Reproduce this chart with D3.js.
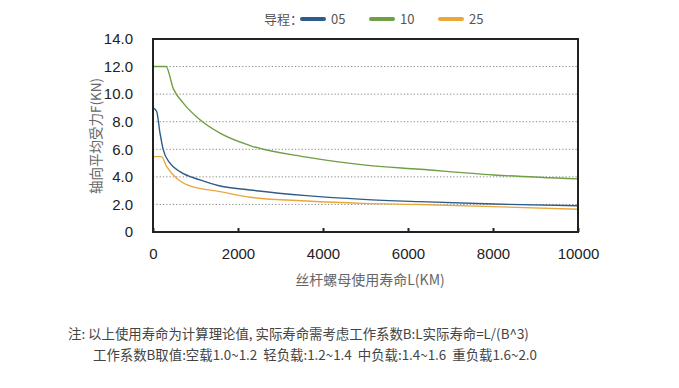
<!DOCTYPE html>
<html>
<head>
<meta charset="utf-8">
<script src="https://cdn.jsdelivr.net/npm/d3@7"></script>
<style>
  body { margin: 0; background: #fff; }
  text { font-family: "Liberation Sans", "Noto Sans CJK SC", sans-serif; }
  .cjk { font-family: "Noto Sans CJK SC", sans-serif; }
</style>
</head>
<body>
<script>
'use strict'

// life (km) and average axial force (kN), per lead
const life05 = [0, 86, 165, 242, 400, 635, 1106, 1576, 2282, 3616, 4949, 6282, 8007, 10000]
const force05 = [9.0, 8.74, 7.17, 5.96, 4.99, 4.38, 3.78, 3.34, 3.05, 2.64, 2.37, 2.2, 2.03, 1.9]

const life10 = [0, 306, 478, 713, 1106, 1576, 2282, 3616, 4949, 6282, 8007, 10000]
const force10 = [12.0, 12.0, 10.4, 9.35, 8.14, 7.17, 6.27, 5.43, 4.87, 4.55, 4.14, 3.85]

const life25 = [0, 200, 322, 557, 870, 1576, 2282, 3616, 4949, 6282, 8007, 10000]
const force25 = [5.47, 5.47, 4.75, 3.9, 3.34, 2.93, 2.52, 2.25, 2.08, 1.99, 1.84, 1.65]

const seriesNames = ['05', '10', '25']
const colors = { '05': '#2f5b88', '10': '#6e9f45', '25': '#e8a83a' }

const xTicks = [0, 2000, 4000, 6000, 8000, 10000]
const yTicks = [0, 2, 4, 6, 8, 10, 12, 14]

const noteLines = [
  '注: 以上使用寿命为计算理论值, 实际寿命需考虑工作系数B:L实际寿命=L/(B^3)',
  '工作系数B取值:空载1.0~1.2  轻负载:1.2~1.4  中负载:1.4~1.6  重负载1.6~2.0'
]

const m = { width: 679, height: 388, left: 153, right: 578, top: 39, bottom: 232 }

const series = [
  { name: '05', life: life05, force: force05 },
  { name: '10', life: life10, force: force10 },
  { name: '25', life: life25, force: force25 }
]

let svg = d3.select('body').append('svg')
  .attr('width', m.width)
  .attr('height', m.height)

let xScale = d3.scaleLinear().domain([0, 10000]).range([m.left, m.right])
let yScale = d3.scaleLinear().domain([0, 14]).range([m.bottom, m.top])

// dotted grid lines
svg.append('g').selectAll('line')
  .data(yTicks.filter((d) => d > 0 && d < 14))
  .enter().append('line')
    .attr('x1', m.left).attr('x2', m.right)
    .attr('y1', (d) => yScale(d)).attr('y2', (d) => yScale(d))
    .style('stroke', '#8c8c8c')
    .style('stroke-width', 1)
    .style('stroke-dasharray', '1.3,2')

// curves
let line = d3.line()
  .x((d) => xScale(d[0]))
  .y((d) => yScale(d[1]))
  .curve(d3.curveMonotoneX)

series.forEach((s) => {
  svg.append('path')
    .datum(s.life.map((l, i) => [l, s.force[i]]))
    .attr('d', line)
    .style('fill', 'none')
    .style('stroke', colors[s.name])
    .style('stroke-width', 1.4)
})

// x axis with small inward ticks
let xAxis = d3.axisBottom(xScale)
  .tickValues(xTicks)
  .tickSizeInner(-4)
  .tickSizeOuter(0)
  .tickPadding(16)
  .tickFormat(d3.format('d'))
let gx = svg.append('g')
  .attr('transform', 'translate(0,' + m.bottom + ')')
  .call(xAxis)
gx.select('.domain').remove()
gx.selectAll('line').style('stroke', '#222').style('stroke-width', 2)
gx.selectAll('text').style('font-size', '15px').style('fill', '#222')

let yAxis = d3.axisLeft(yScale)
  .tickValues(yTicks)
  .tickSize(0)
  .tickPadding(20)
  .tickFormat((d) => d === 0 ? '0' : d3.format('.1f')(d))
let gy = svg.append('g')
  .attr('transform', 'translate(' + m.left + ',0)')
  .call(yAxis)
gy.select('.domain').remove()
gy.selectAll('text').style('font-size', '15px').style('fill', '#222')

// plot frame
svg.append('rect')
  .attr('x', m.left).attr('y', m.top)
  .attr('width', m.right - m.left).attr('height', m.bottom - m.top)
  .style('fill', 'none')
  .style('stroke', '#222')
  .style('stroke-width', 2)

// axis titles
svg.append('text')
  .attr('class', 'cjk')
  .attr('x', 370).attr('y', 285)
  .attr('text-anchor', 'middle')
  .style('font-size', '14px')
  .style('fill', '#666')
  .text('丝杆螺母使用寿命L(KM)')

svg.append('text')
  .attr('class', 'cjk')
  .attr('transform', 'translate(101, 136)rotate(-90)')
  .attr('text-anchor', 'middle')
  .style('font-size', '13.5px')
  .style('fill', '#666')
  .text('轴向平均受力F(KN)')

// legend
let legend = svg.append('g').attr('transform', 'translate(264, 19)')
legend.append('text')
  .attr('class', 'cjk')
  .attr('x', 0).attr('y', 5)
  .style('font-size', '13px')
  .style('fill', '#555')
  .text('导程：')
seriesNames.forEach((name, i) => {
  let x0 = 38 + i * 69
  legend.append('line')
    .attr('x1', x0).attr('x2', x0 + 22)
    .attr('y1', 0).attr('y2', 0)
    .style('stroke', colors[name])
    .style('stroke-width', 4)
    .style('stroke-linecap', 'round')
  legend.append('text')
    .attr('class', 'cjk')
    .attr('x', x0 + 29).attr('y', 5)
    .style('font-size', '13px')
    .style('fill', '#555')
    .text(name)
})

// footnote
svg.append('g').selectAll('text')
  .data(noteLines)
  .enter().append('text')
    .attr('class', 'cjk')
    .attr('x', (d, i) => i === 0 ? 68 : 93)
    .attr('y', (d, i) => 339 + i * 21)
    .style('font-size', '13.4px')
    .style('fill', '#444')
    .style('white-space', 'pre')
    .text((d) => d)
</script>
</body>
</html>
